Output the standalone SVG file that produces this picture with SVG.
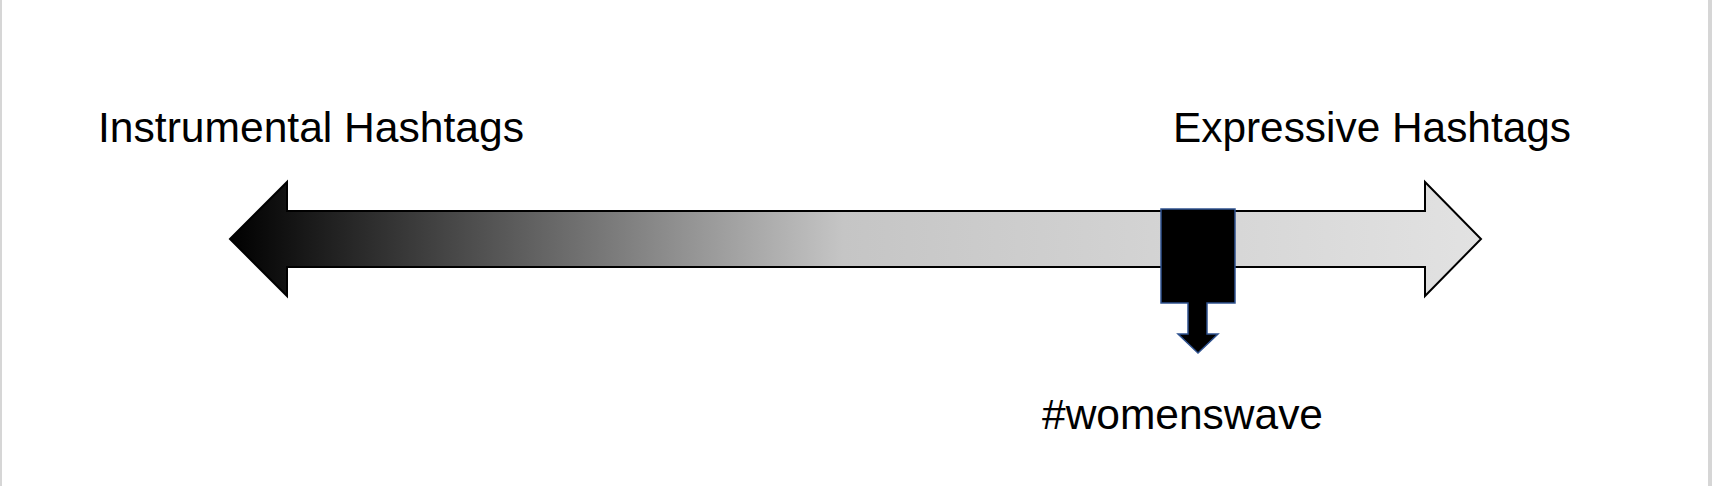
<svg xmlns="http://www.w3.org/2000/svg" width="1712" height="486" viewBox="0 0 1712 486">
  <style>
    .lbl { font-family: "Liberation Sans", Arial, sans-serif; font-size: 42.5px; fill: #000; }
    .border { fill: #d6d6d6; }
  </style>
  <defs>
    <linearGradient id="scaleGrad" gradientUnits="userSpaceOnUse" x1="230" y1="0" x2="1481" y2="0">
      <stop offset="0" stop-color="#000000"/>
      <stop offset="0.49" stop-color="#c5c5c5"/>
      <stop offset="1" stop-color="#e2e2e2"/>
    </linearGradient>
  </defs>
  <rect x="0" y="0" width="1712" height="486" fill="#ffffff"/>
  <rect class="border" x="0" y="0" width="2" height="486"/>
  <rect class="border" x="1708" y="0" width="4" height="486"/>

  <g id="scale">
    <path d="M230,239 L287,182 L287,211 L1425,211 L1425,182 L1481,239 L1425,296 L1425,267 L287,267 L287,296 Z" fill="url(#scaleGrad)" stroke="#000" stroke-width="2" stroke-linejoin="miter"/>
  </g>

  <g id="label-instrumental">
    <text class="lbl" x="98" y="142" textLength="426" lengthAdjust="spacingAndGlyphs">Instrumental Hashtags</text>
  </g>
  <g id="label-expressive">
    <text class="lbl" x="1173" y="142" textLength="398" lengthAdjust="spacingAndGlyphs">Expressive Hashtags</text>
  </g>

  <g id="marker-womenswave">
    <path d="M1161,209 H1235 V303 H1207 V334 H1218 L1198,353 L1178,334 H1188 V303 H1161 Z" fill="#000" stroke="#2f528f" stroke-width="1.5"/>
    <text class="lbl" x="1042" y="429" textLength="281" lengthAdjust="spacingAndGlyphs">#womenswave</text>
  </g>

  <g id="connectors"></g>
</svg>
